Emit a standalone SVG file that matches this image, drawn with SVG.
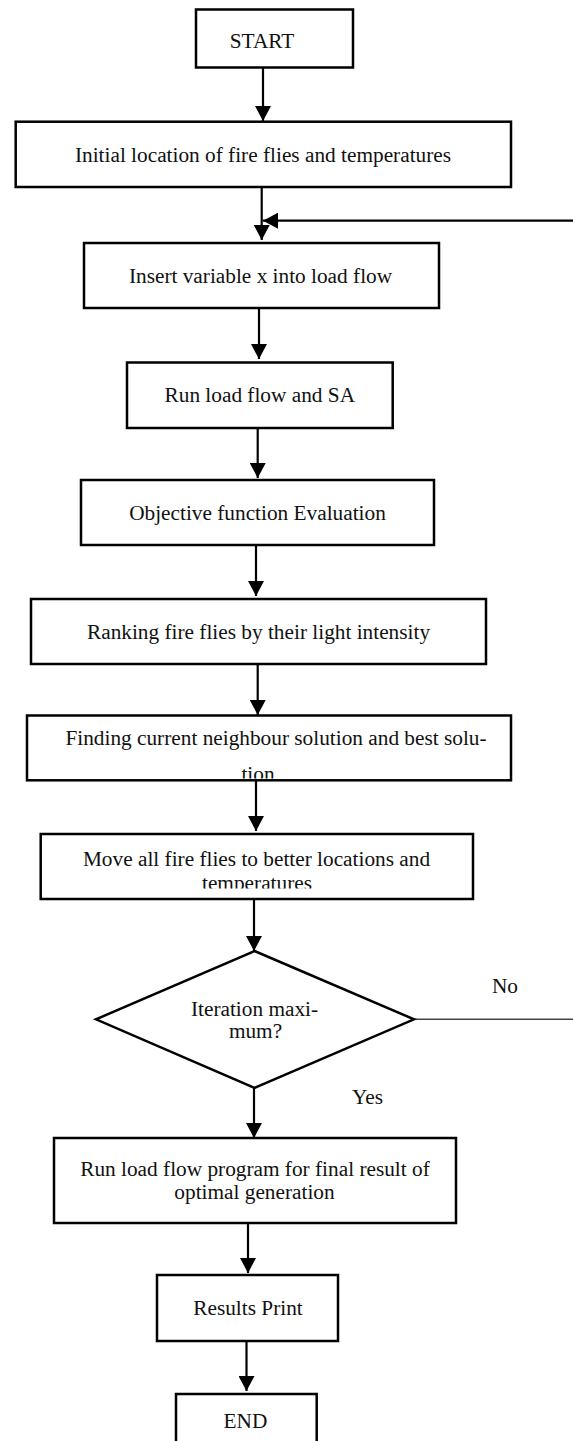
<svg xmlns="http://www.w3.org/2000/svg" width="573" height="1441" viewBox="0 0 573 1441">
<style>
.box{fill:#fff;stroke:#000;stroke-width:2.5}
.t{font-family:"Liberation Serif","Times New Roman",serif;font-size:21.3px;fill:#111;text-anchor:middle}
.c{fill:none;stroke:#000;stroke-width:2.2}
.thin{fill:none;stroke:#444;stroke-width:1.4}
</style>
<defs>
<marker id="ah" markerUnits="userSpaceOnUse" markerWidth="16" markerHeight="16" refX="15" refY="8" orient="auto">
<path d="M0,0 L15,8 L0,16 z" fill="#000"/>
</marker>
<clipPath id="clipFind"><rect x="27" y="715" width="484" height="63.5"/></clipPath>
<clipPath id="clipMove"><rect x="41" y="834" width="432" height="54.5"/></clipPath>
</defs>
<g id="connectors">
<path class="c" d="M263,68 V121" marker-end="url(#ah)"/>
<path class="c" d="M261.7,187 V240" marker-end="url(#ah)"/>
<path class="c" d="M573,220.7 H263" marker-end="url(#ah)"/>
<path class="c" d="M259,308 V359" marker-end="url(#ah)"/>
<path class="c" d="M257.7,428 V478" marker-end="url(#ah)"/>
<path class="c" d="M256,545 V596" marker-end="url(#ah)"/>
<path class="c" d="M257.7,664 V715" marker-end="url(#ah)"/>
<path class="c" d="M256,780 V831" marker-end="url(#ah)"/>
<path class="c" d="M254,899 V951" marker-end="url(#ah)"/>
<path class="c" d="M254,1088 V1138" marker-end="url(#ah)"/>
<path class="c" d="M248,1223 V1273" marker-end="url(#ah)"/>
<path class="c" d="M246.5,1341 V1391" marker-end="url(#ah)"/>
<path class="thin" d="M414,1019.3 H573"/>
<text class="t" x="505" y="993">No</text>
<text class="t" x="367.5" y="1104">Yes</text>
</g>
<g id="start">
<rect class="box" x="196" y="9.5" width="157" height="58"/>
<text class="t" x="262" y="47.7">START</text>
</g>
<g id="initial">
<rect class="box" x="15.7" y="121.7" width="495.3" height="65.3"/>
<text class="t" x="263" y="162">Initial location of fire flies and temperatures</text>
</g>
<g id="insert">
<rect class="box" x="84" y="243" width="355" height="65"/>
<text class="t" x="260.5" y="282.7">Insert variable x into load flow</text>
</g>
<g id="runlf">
<rect class="box" x="127" y="362.5" width="265.7" height="65.5"/>
<text class="t" x="259.8" y="402">Run load flow and SA</text>
</g>
<g id="objective">
<rect class="box" x="81" y="480" width="353" height="65"/>
<text class="t" x="257.5" y="520">Objective function Evaluation</text>
</g>
<g id="ranking">
<rect class="box" x="31" y="599" width="455" height="65"/>
<text class="t" x="258.5" y="639">Ranking fire flies by their light intensity</text>
</g>
<g id="finding">
<rect class="box" x="27" y="715.5" width="484" height="64.8"/>
<g clip-path="url(#clipFind)">
<text class="t" x="276" y="745">Finding current neighbour solution and best solu-</text>
<text class="t" x="258" y="781">tion</text>
</g>
</g>
<g id="move">
<rect class="box" x="40.7" y="834" width="432.3" height="65"/>
<g clip-path="url(#clipMove)">
<text class="t" x="256.5" y="866">Move all fire flies to better locations and</text>
<text class="t" x="257" y="890">temperatures</text>
</g>
</g>
<g id="decision">
<polygon class="box" points="254.5,951 414,1019.3 254.5,1088 96,1019.3"/>
<text class="t" x="254.5" y="1016">Iteration maxi-</text>
<text class="t" x="255.5" y="1038">mum?</text>
</g>
<g id="runprog">
<rect class="box" x="54" y="1138" width="402" height="85"/>
<text class="t" x="255" y="1175.7">Run load flow program for final result of</text>
<text class="t" x="254.5" y="1199">optimal generation</text>
</g>
<g id="results">
<rect class="box" x="157" y="1275" width="181" height="66"/>
<text class="t" x="248" y="1315">Results Print</text>
</g>
<g id="end">
<rect class="box" x="176" y="1394" width="140.7" height="60"/>
<text class="t" x="245.5" y="1427.7">END</text>
</g>
</svg>
